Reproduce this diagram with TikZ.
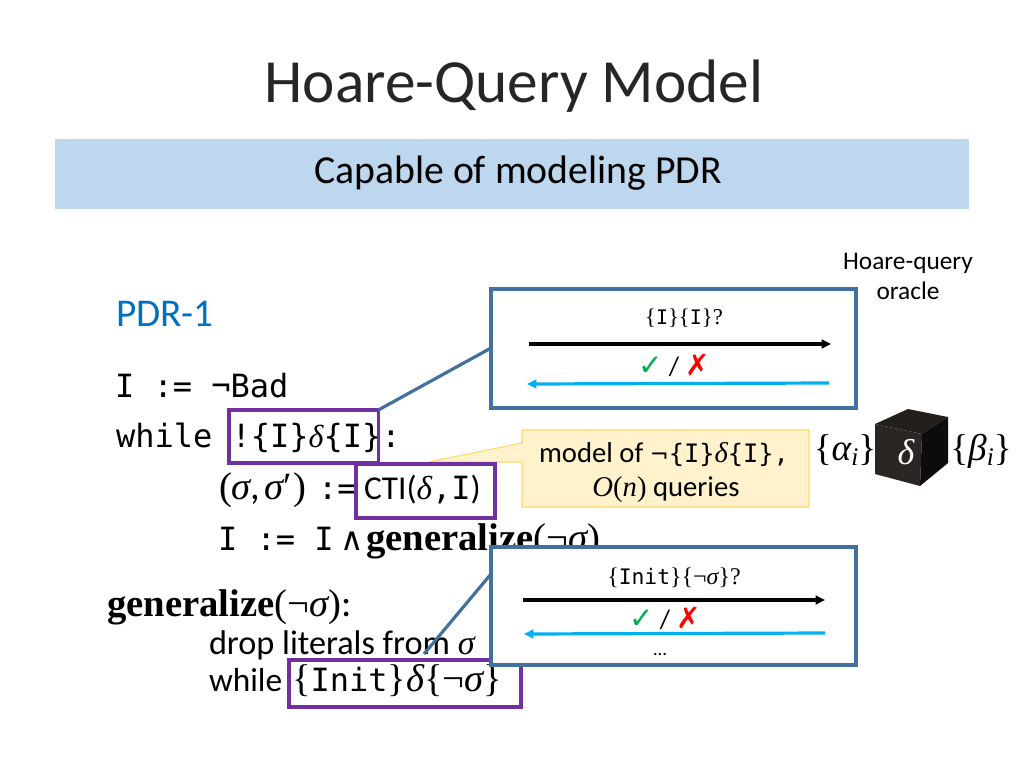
\documentclass[tikz,border=0pt]{standalone}
\usepackage{fontspec}
\setmainfont{Carlito}
\setmonofont{DejaVu Sans Mono}
\newfontfamily\mth{Liberation Serif}
\newfontfamily\djv{DejaVu Sans}
\newcommand{\mIt}[1]{{\mth\itshape #1}}
\newcommand{\mRm}[1]{{\mth #1}}
\newcommand{\mBf}[1]{{\mth\bfseries #1}}
\newcommand{\fsz}[1]{\fontsize{#1}{#1}\selectfont}
\definecolor{titlegray}{HTML}{262626}
\definecolor{bannerblue}{HTML}{BDD7EE}
\definecolor{pdrblue}{HTML}{0070C0}
\definecolor{steel}{HTML}{41719C}
\definecolor{purp}{HTML}{7030A0}
\definecolor{noteyellow}{HTML}{FFF2CC}
\definecolor{noteedge}{HTML}{FFD966}
\definecolor{cyanarrow}{HTML}{00B0F0}
\definecolor{okgreen}{HTML}{00B050}
\definecolor{cubetop}{HTML}{231F1D}
\definecolor{cubeleft}{HTML}{2B2523}
\definecolor{cuberight}{HTML}{0C0C0C}
\usetikzlibrary{arrows.meta}
\tikzset{
  txt/.style={inner sep=0pt,outer sep=0pt,anchor=base west,text=black},
  ctr/.style={inner sep=0pt,outer sep=0pt,anchor=base,text=black},
  codefont/.style={font=\fsz{24}},
  oraclebox/.style={draw=steel,line width=2.4pt,fill=white,inner sep=0pt,outer sep=0pt},
  purplebox/.style={draw=purp,line width=2.4pt,inner sep=0pt,outer sep=0pt},
  leader/.style={draw=steel,line width=2.4pt},
  queryarrow/.style={draw=black,line width=2.4pt,-{Triangle[length=7pt,width=6.5pt]}},
  replyarrow/.style={draw=cyanarrow,line width=2.4pt,-{Triangle[length=7pt,width=6.5pt]}},
}
\begin{document}
\begin{tikzpicture}[x=0.75pt,y=-0.75pt]
\useasboundingbox (0,0) rectangle (1024,768);
% title and banner
\node[ctr,font=\fsz{46},text=titlegray] (title) at (514,102) {Hoare-Query Model};
\node[fill=bannerblue,inner sep=0pt,outer sep=0pt,anchor=north west,minimum width=685.5pt,minimum height=52.5pt] (banner) at (55,139) {};
\node[ctr,font=\fsz{29.8}] (bannertext) at (518,183) {Capable of modeling PDR};
% oracle label
\node[ctr,font=\fsz{19}] (oracleA) at (908,269) {Hoare-query};
\node[ctr,font=\fsz{19}] (oracleB) at (908,299) {oracle};
\node[txt,font=\fsz{29.5},text=pdrblue] (pdr) at (116,326) {PDR-1};
% yellow callout
\path[fill=noteyellow,draw=noteedge,line width=0.8pt] (522,430) -- (809,430) -- (809,507) -- (522,507) -- (522,462) -- (428,462) coordinate (callouttip) -- (522,443) -- cycle;
\node[ctr,font=\fsz{21.5}] (noteA) at (664,462) {model of {\djv\fsz{17}¬}{\fsz{19}\ttfamily \{I\}}\mIt{δ}{\fsz{19}\ttfamily \{I\},}};
\node[ctr,font=\fsz{21.5}] (noteB) at (666,496) {\mIt{O}\mRm{(}\mIt{n}\mRm{)} queries};
% code
\node[txt,codefont] (line1) at (115,397) {\ttfamily I := ¬Bad};
\node[txt,codefont] (line2) at (116,447) {\ttfamily while !\{I\}\mIt{δ}\{I\}:};
\node[txt,font=\fsz{29}] (line3a) at (219,499) {\mRm{(}\mIt{σ},\hspace{3pt}\mIt{σ}\mRm{′}\hspace{1pt}\mRm{)}};
\node[txt,codefont] (line3b) at (318,499) {\ttfamily :=};
\node[txt,codefont] (line4a) at (218,550) {\ttfamily I := I};
\node[txt,font=\fsz{24}] (line4b) at (340,550) {{\djv∧}};
\node[txt,font=\fsz{29}] (line4c) at (366,550) {\mBf{generalize}\mRm{(¬}\mIt{σ}\mRm{)}};
\node[txt,font=\fsz{29}] (genhead) at (107,616) {\mBf{generalize}\mRm{(¬}\mIt{σ}\mRm{)}:};
\node[txt,font=\fsz{25.7}] (drop) at (209,654) {drop literals from \mIt{σ}};
\node[txt,font=\fsz{25}] (whileword) at (209,691) {while};
\node[txt,font=\fsz{29}] (initcond) at (292,691) {\mRm{\{}{\fsz{24}\ttfamily Init}\mRm{\}}\mIt{δ}\mRm{\{¬}\mIt{σ}\mRm{\}}};
% purple boxes
\node[purplebox,anchor=north west,minimum width=112pt,minimum height=39.75pt] (whilebox) at (229,410) {};
\node[purplebox,fill=white,anchor=north west,minimum width=104.25pt,minimum height=40.5pt] (ctibox) at (356,464) {};
\node[txt,font=\fsz{25}] (ctitext) at (364,499) {CTI(\mIt{δ}{\fsz{24}\ttfamily ,I})};
\node[purplebox,anchor=north west,minimum width=174pt,minimum height=35.25pt] (initbox) at (289,660) {};
% oracle boxes
\node[oraclebox,anchor=north west,minimum width=273.75pt,minimum height=89.25pt] (queryA) at (491,289) {};
\node[oraclebox,anchor=north west,minimum width=273.75pt,minimum height=88.5pt] (queryB) at (491,547) {};
\coordinate (leadA) at (491,348);
\coordinate (leadB) at (491,574);
\coordinate (leadBstart) at (424,654);
\draw[leader] (whilebox.north east) -- (leadA);
\draw[leader] (leadBstart) -- (leadB);
% first exchange
\node[ctr,font=\fsz{17}] (qA) at (684,324) {\mRm{\{}{\fsz{15}\ttfamily I}\mRm{\}\{}{\fsz{15}\ttfamily I}\mRm{\}?}};
\coordinate (a1s) at (529,344); \coordinate (a1e) at (831,344);
\coordinate (a2s) at (829,383); \coordinate (a2e) at (527,384);
\draw[queryarrow] (a1s) -- (a1e);
\draw[replyarrow] (a2s) -- (a2e);
\node[ctr,font=\fsz{20}] (rA) at (674,375) {{\djv\fsz{22}\textcolor{okgreen}{✓}} / {\djv\bfseries\fsz{22}\textcolor{red}{✗}}};
% second exchange
\node[ctr,font=\fsz{18}] (qB) at (674,584) {\mRm{\{}{\fsz{16}\ttfamily Init}\mRm{\}\{¬}\mIt{σ}\mRm{\}?}};
\coordinate (b1s) at (523,600); \coordinate (b1e) at (825,600);
\coordinate (b2s) at (825,633); \coordinate (b2e) at (524,634);
\draw[queryarrow] (b1s) -- (b1e);
\draw[replyarrow] (b2s) -- (b2e);
\node[ctr,font=\fsz{20}] (rB) at (665,628) {{\djv\fsz{22}\textcolor{okgreen}{✓}} / {\djv\bfseries\fsz{22}\textcolor{red}{✗}}};
\node[ctr,font=\fsz{14}] (dots) at (660,655) {…};
% cube
\fill[cubetop] (875,424) -- (908,409) -- (948,417) -- (922,434) -- cycle;
\fill[cubeleft] (875,424) -- (922,434) -- (920,486) -- (875,474) -- cycle;
\fill[cuberight] (922,434) -- (948,417) -- (948,463) -- (920,486) -- cycle;
\node[ctr,font=\fsz{27},text=white] (cubelabel) at (906,464) {\mIt{δ}};
\node[ctr,font=\fsz{28}] (alpha) at (845,460) {\mRm{\{}\mIt{α}\raisebox{-4pt}{\fsz{19}\mIt{i}}\mRm{\}}};
\node[ctr,font=\fsz{28}] (beta) at (981,460) {\mRm{\{}\mIt{β}\raisebox{-4pt}{\fsz{19}\mIt{i}}\mRm{\}}};
\end{tikzpicture}
\end{document}
